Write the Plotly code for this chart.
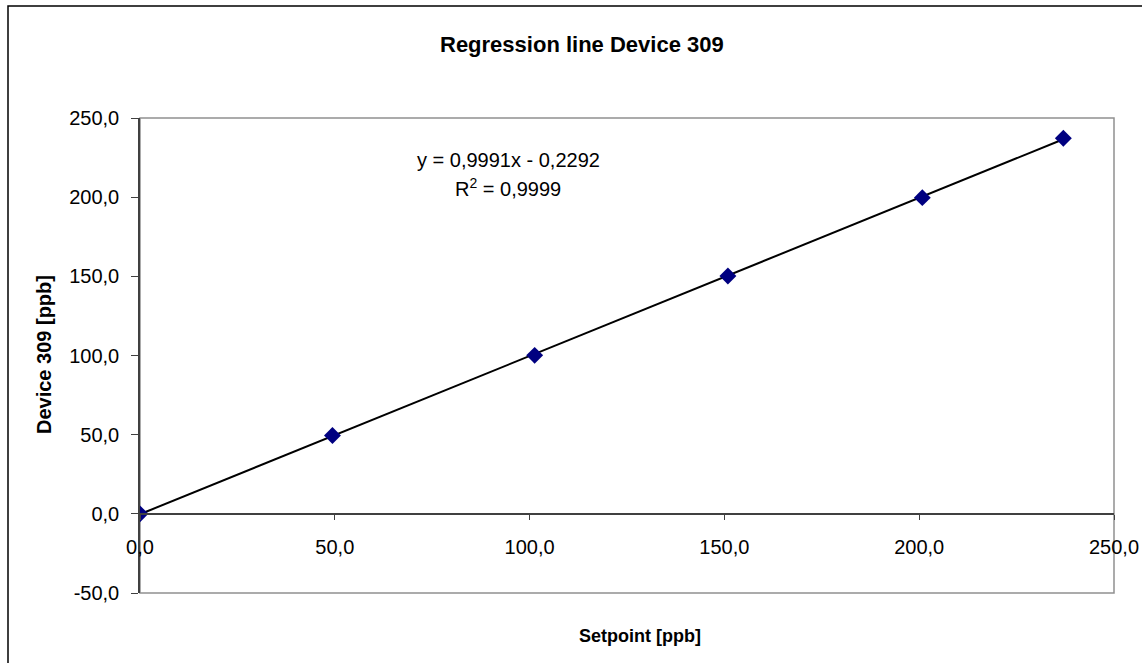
import plotly.graph_objects as go

# Data
setpoint = [0.0, 49.4, 101.3, 150.9, 200.8, 237.0]
device = [0.0, 49.5, 100.1, 150.2, 199.7, 237.2]
slope = 0.9991
intercept = -0.2292
r_squared = 0.9999
x_ticks = [0, 50, 100, 150, 200, 250]
y_ticks = [-50, 0, 50, 100, 150, 200, 250]

def fmt(v):
    return f"{v:.1f}".replace(".", ",")

trend_x = [min(setpoint), max(setpoint)]
trend_y = [slope * v + intercept for v in trend_x]

fig = go.Figure()
fig.add_trace(go.Scatter(x=trend_x, y=trend_y, mode="lines",
                         line=dict(color="black", width=2), hoverinfo="skip"))
fig.add_trace(go.Scatter(x=setpoint, y=device, mode="markers",
                         marker=dict(symbol="diamond", size=13, color="#000080",
                                     line=dict(width=0))))

W, H = 1142, 663
L, R, T, B = 140, 28, 118, 70
pw, ph = W - L - R, H - T - B

def px_x(p):
    return (p - L) / pw

def px_y(p):
    return (H - B - p) / ph

def note(text, x, y, size, angle=0):
    return dict(text=text, xref="paper", yref="paper", x=px_x(x), y=px_y(y),
                xanchor="center", yanchor="middle", showarrow=False,
                textangle=angle, font=dict(size=size))

font = "Liberation Sans, Arial, sans-serif"
fig.update_layout(
    width=W, height=H,
    margin=dict(l=L, r=R, t=T, b=B, autoexpand=False),
    plot_bgcolor="white", paper_bgcolor="white",
    showlegend=False,
    font=dict(family=font, size=20, color="black"),
    xaxis=dict(range=[0, 250], tickvals=x_ticks, ticktext=[fmt(v) for v in x_ticks],
               showgrid=False, zeroline=False, showline=True, linecolor="#404040",
               linewidth=1.5, ticks="outside", ticklen=5, tickcolor="#404040",
               anchor="free", position=(0 - (-50)) / 300.0,
               ticklabelstandoff=10, tickfont=dict(size=20)),
    yaxis=dict(range=[-50, 250], tickvals=y_ticks, ticktext=[fmt(v) for v in y_ticks],
               showgrid=False, zeroline=False, showline=True, linecolor="#404040",
               linewidth=1.5, ticks="outside", ticklen=7, tickcolor="#404040",
               ticklabelstandoff=8, tickfont=dict(size=20)),
    shapes=[
        dict(type="rect", xref="paper", yref="paper", x0=0, x1=1, y0=0, y1=1,
             line=dict(color="#909090", width=1.5), layer="below"),
        dict(type="rect", xref="paper", yref="paper",
             x0=px_x(8), x1=px_x(1150), y0=px_y(680), y1=px_y(6),
             line=dict(color="black", width=1.5), layer="below"),
    ],
    annotations=[
        note("<b>Regression line Device 309</b>", 582, 44, 22),
        note("<b>Setpoint [ppb]</b>", 640, 636, 18),
        note("<b>Device 309 [ppb]</b>", 44, 355, 20, angle=-90),
        note(f"y = {slope:.4f}x - {abs(intercept):.4f}".replace(".", ","), 508, 160, 20),
        note(f"R<sup>2</sup> = {r_squared:.4f}".replace(".", ","), 508, 187, 20),
    ],
)

fig.write_html("out.html", config={"displayModeBar": False},
               post_script="document.body.style.margin='0';")
